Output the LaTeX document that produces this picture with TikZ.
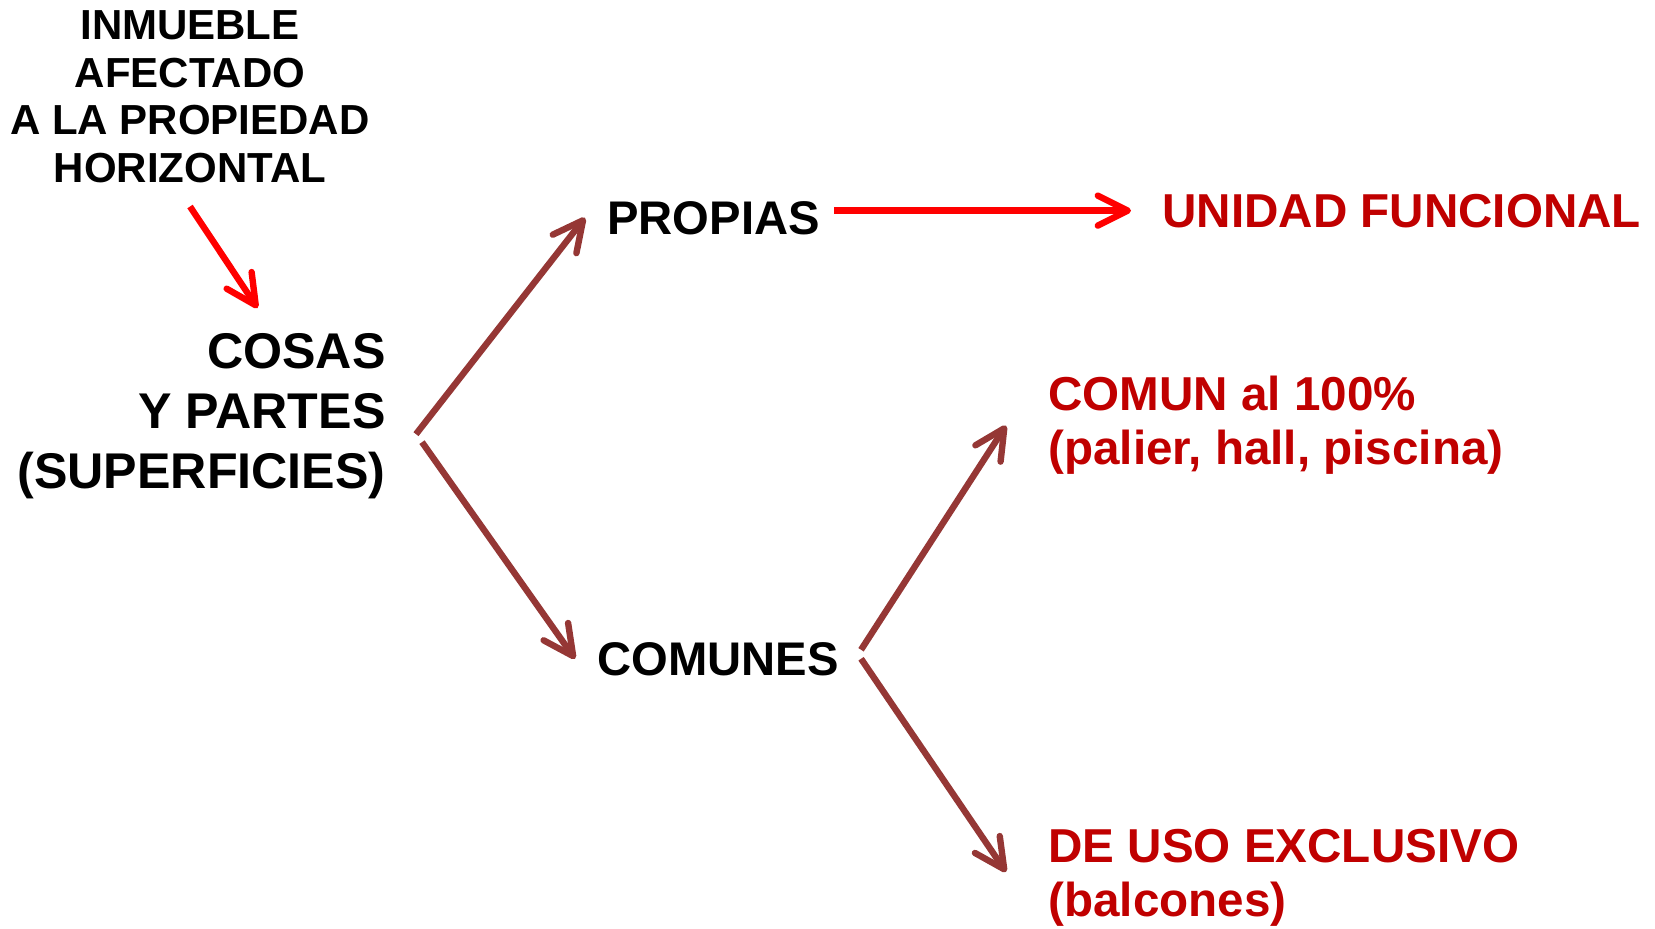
\documentclass[tikz,border=0pt]{standalone}
\usepackage{fontspec}
\setmainfont{Liberation Sans}
\usetikzlibrary{arrows.meta,calc,positioning}
\definecolor{arrowbrown}{RGB}{149,55,53}
\definecolor{textred}{RGB}{192,0,0}
\definecolor{arrowred}{RGB}{255,0,0}

\begin{document}
\begin{tikzpicture}[x=0.5pt,y=-0.5pt]
	\tikzstyle{brownarrow} = [draw=arrowbrown,line width=3.2pt,-{Straight Barb[length=15pt,width=15pt,round]}]
	\tikzstyle{redarrow} = [draw=arrowred,line width=3.2pt,-{Straight Barb[length=15pt,width=15pt,round]}]
	\tikzstyle{small} = [font=\fontsize{21}{23.9}\selectfont\bfseries,inner sep=0pt,align=center]
	\tikzstyle{big} = [font=\fontsize{25.1}{30}\selectfont\bfseries,inner sep=15pt,align=right]
	\tikzstyle{mid} = [font=\fontsize{23.6}{27}\selectfont\bfseries,inner sep=11pt]
	\tikzstyle{leaf} = [font=\fontsize{23.8}{27}\selectfont\bfseries,text=textred,align=left]
	\useasboundingbox (0,0) rectangle (1655,928);
	% Left
	\node[small,anchor=north] at (190,10)(horiz) {INMUEBLE\\AFECTADO\\A LA PROPIEDAD\\HORIZONTAL};
	\node[big,anchor=north east] at (416,303)(cosas) {COSAS\\Y PARTES\\(SUPERFICIES)};
	\draw[redarrow] ([yshift=-11.5pt]horiz.south) -- ([xshift=28pt,yshift=-2.5pt]cosas.north);
	% Middle
	\node[mid,anchor=base west] at (585,234)(propias) {PROPIAS};
	\node[mid,anchor=base west] at (575,675)(comunes) {COMUNES};
	\draw[brownarrow] ([yshift=-9pt]cosas.east) -- (propias.west);
	\draw[brownarrow] ([xshift=3pt,yshift=-13pt]cosas.east) -- (comunes.west);
	% Right
	\node[leaf,inner sep=15.5pt,anchor=base west] at (1131,227)(unidad) {UNIDAD FUNCIONAL};
	\node[leaf,inner sep=21pt,anchor=north west] at (1006,334)(comun) {COMUN al 100\%\\(palier, hall, piscina)};
	\node[leaf,inner sep=21pt,anchor=north west] at (1006,787)(deuso) {DE USO EXCLUSIVO\\(balcones)};
	\draw[redarrow] ([xshift=-4pt]propias.east |- unidad.west) -- (unidad.west);
	\draw[brownarrow] ([yshift=4.5pt]comunes.east) -- (comun.west);
	\draw[brownarrow] (comunes.east) -- ([yshift=3pt]deuso.west);
\end{tikzpicture}
\end{document}
